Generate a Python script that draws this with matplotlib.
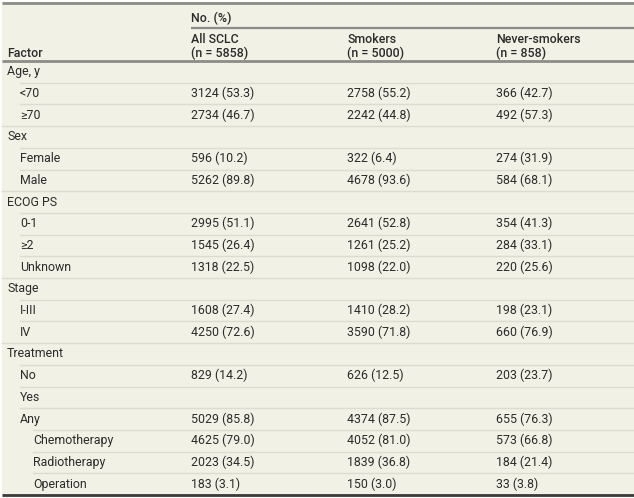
import matplotlib
matplotlib.use("Agg")
import matplotlib.pyplot as plt

# table content
factors = ["Age, y", "<70", "≥70", "Sex", "Female", "Male", "ECOG PS", "0-1", "≥2",
           "Unknown", "Stage", "I-III", "IV", "Treatment", "No", "Yes", "Any",
           "Chemotherapy", "Radiotherapy", "Operation"]
levels = [0, 1, 1, 0, 1, 1, 0, 1, 1, 1, 0, 1, 1, 0, 1, 1, 1, 2, 2, 2]

all_n = [None, 3124, 2734, None, 596, 5262, None, 2995, 1545, 1318, None, 1608, 4250,
         None, 829, None, 5029, 4625, 2023, 183]
all_pct = [None, 53.3, 46.7, None, 10.2, 89.8, None, 51.1, 26.4, 22.5, None, 27.4, 72.6,
           None, 14.2, None, 85.8, 79.0, 34.5, 3.1]
smk_n = [None, 2758, 2242, None, 322, 4678, None, 2641, 1261, 1098, None, 1410, 3590,
         None, 626, None, 4374, 4052, 1839, 150]
smk_pct = [None, 55.2, 44.8, None, 6.4, 93.6, None, 52.8, 25.2, 22.0, None, 28.2, 71.8,
           None, 12.5, None, 87.5, 81.0, 36.8, 3.0]
nev_n = [None, 366, 492, None, 274, 584, None, 354, 284, 220, None, 198, 660,
         None, 203, None, 655, 573, 184, 33]
nev_pct = [None, 42.7, 57.3, None, 31.9, 68.1, None, 41.3, 33.1, 25.6, None, 23.1, 76.9,
           None, 23.7, None, 76.3, 66.8, 21.4, 3.8]

col_heads = [("All SCLC", 5858), ("Smokers", 5000), ("Never-smokers", 858)]
columns = [(all_n, all_pct), (smk_n, smk_pct), (nev_n, nev_pct)]

plt.rcParams['font.family'] = ['Roboto', 'DejaVu Sans']

W, H = 634, 498
fig = plt.figure(figsize=(W / 100, H / 100), dpi=100, facecolor='white')
ax = fig.add_axes([0, 0, 1, 1])
ax.set_xlim(0, W)
ax.set_ylim(H, 0)
ax.axis('off')

bg = '#f2f1e6'
txt = '#2b2b2b'
ax.add_patch(plt.Rectangle((2, 2), W - 2, 494, color=bg, zorder=0))

fs = 8.9
indent_x = [7, 20, 33]
col_x = [191, 347, 496]

# header
ax.plot([2, W], [2.5, 2.5], color='#8c8c88', lw=2.0, solid_capstyle='butt')
ax.text(col_x[0], 18, "No. (%)", fontsize=fs, fontweight='medium', color=txt, va='center')
ax.plot([col_x[0], W], [28, 28], color='#8c8c88', lw=1.6, solid_capstyle='butt')
ax.text(indent_x[0], 53, "Factor", fontsize=fs, fontweight='medium', color=txt, va='center')
for x, (name, n) in zip(col_x, col_heads):
    ax.text(x, 39.5, name, fontsize=fs, fontweight='medium', color=txt, va='center')
    ax.text(x, 53, "(n = %d)" % n, fontsize=fs, fontweight='medium', color=txt, va='center')

top = 61
row_h = 21.7
ax.plot([2, W], [top, top], color='#8c8c88', lw=2.0, solid_capstyle='butt')

for i, (name, lev) in enumerate(zip(factors, levels)):
    yc = top + row_h * (i + 0.5)
    if i > 0:
        yl = top + row_h * i
        ax.plot([indent_x[lev] if lev > 0 else 2, W], [yl, yl], color='#dddcd0', lw=1.0)
    ax.text(indent_x[lev], yc, name, fontsize=fs, color=txt, va='center')
    for x, (ns, ps) in zip(col_x, columns):
        if ns[i] is not None:
            ax.text(x, yc, "%d (%.1f)" % (ns[i], ps[i]), fontsize=fs, color=txt, va='center')

ax.plot([2, W], [495, 495], color='#3a3a3a', lw=2.0, solid_capstyle='butt')

fig.savefig('out.png', dpi=100, facecolor='white')
